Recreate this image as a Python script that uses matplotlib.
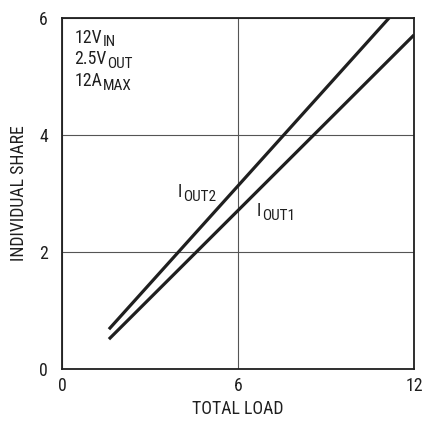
import matplotlib
matplotlib.use("Agg")
import matplotlib.pyplot as plt
from matplotlib import font_manager

# values
load_out2 = [1.6, 11.15]
share_out2 = [0.68, 6.0]
load_out1 = [1.6, 12.0]
share_out1 = [0.51, 5.71]
x_ticks = [0, 6, 12]
y_ticks = [0, 2, 4, 6]
notes = [("12V", "IN"), ("2.5V", "OUT"), ("12A", "MAX")]

names = {f.name for f in font_manager.fontManager.ttflist}
family = "Roboto Condensed" if "Roboto Condensed" in names else "Liberation Sans"
plt.rcParams["font.family"] = [family, "DejaVu Sans"]

INK = "#1f1f1f"
FS = 12.8
SUB_FS = 11


def sub_text(ax, x, y, main, sub):
    t = ax.text(x, y, main, fontsize=FS, color=INK, va="baseline")
    ax.annotate(sub, xy=(1, 0), xycoords=t, xytext=(0.3, -2), textcoords="offset points",
                fontsize=SUB_FS, color=INK, va="bottom", ha="left")
    return t


fig = plt.figure(figsize=(4.23, 4.25), dpi=100)
ax = fig.add_axes([62 / 423, 1 - 369 / 425, 352 / 423, 351 / 425])

ax.plot(load_out2, share_out2, color=INK, lw=2.3, solid_capstyle="butt")
ax.plot(load_out1, share_out1, color=INK, lw=2.3, solid_capstyle="butt")

ax.set_xlim(0, 12)
ax.set_ylim(0, 6)
ax.set_xticks(x_ticks)
ax.set_yticks(y_ticks)
ax.tick_params(length=0, labelsize=FS, colors=INK)
ax.tick_params(axis="x", pad=6)
ax.tick_params(axis="y", pad=10)
ax.grid(True, color="#555555", lw=0.8)
for s in ax.spines.values():
    s.set_linewidth(1.3)
    s.set_color(INK)

ax.set_xlabel("TOTAL LOAD", fontsize=FS, color=INK, labelpad=3)
ax.set_ylabel("INDIVIDUAL SHARE", fontsize=FS, color=INK, labelpad=8)

for i, (main, sub) in enumerate(notes):
    sub_text(ax, 0.43, 5.58 - i * 0.37, main, sub)

sub_text(ax, 3.95, 2.94, "I", "OUT2")
sub_text(ax, 6.65, 2.62, "I", "OUT1")

fig.savefig("out.png", dpi=100)
